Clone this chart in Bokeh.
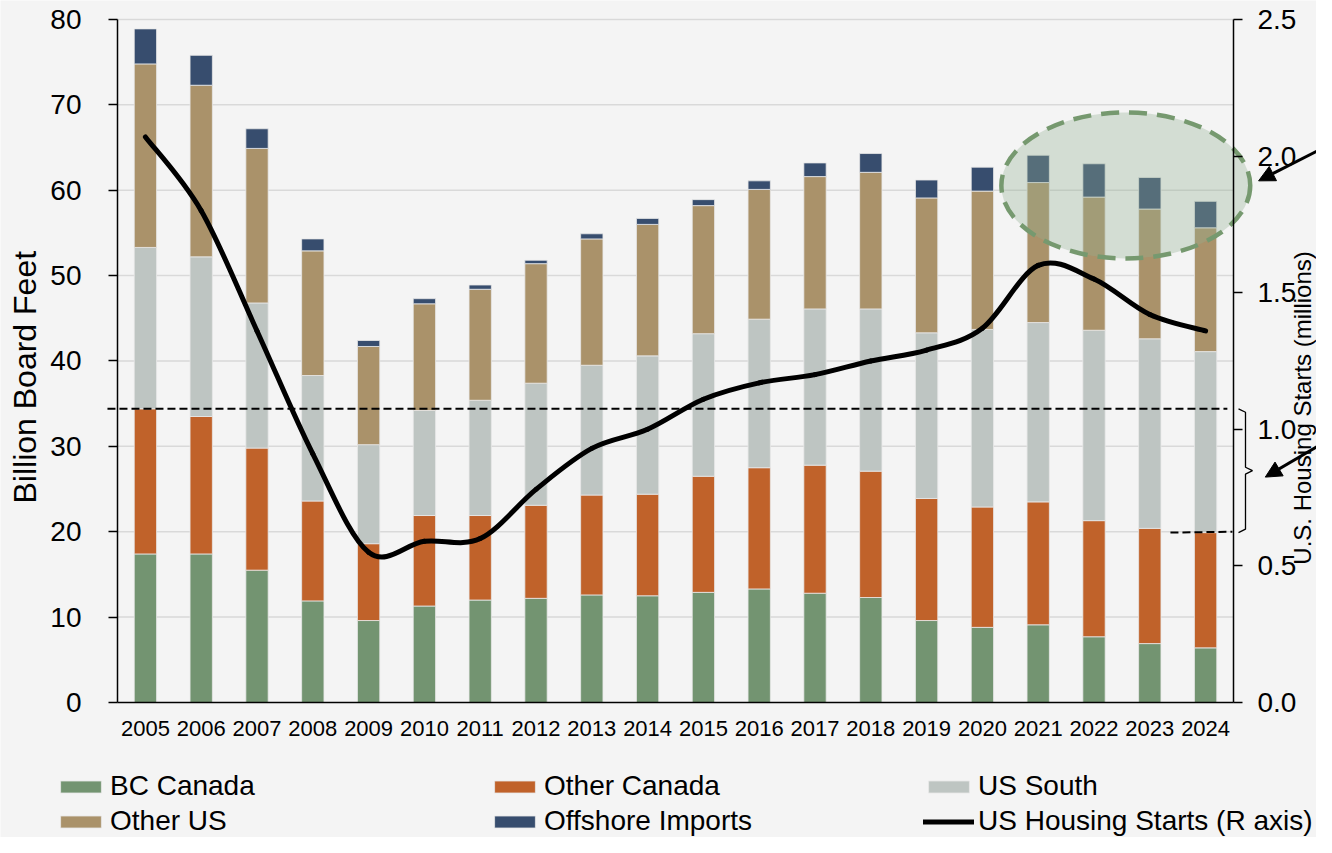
import math
from bokeh.plotting import figure
from bokeh.models import (Range1d, LinearAxis, FixedTicker, NumeralTickFormatter, Legend,
                          LegendItem, Arrow, NormalHead, Label, ColumnDataSource)
from bokeh.embed import file_html
from bokeh.resources import INLINE

# ---------------- data ----------------
years = list(range(2005, 2025))
bc_canada = [17.4, 17.4, 15.5, 11.9, 9.6, 11.3, 12.0, 12.2, 12.6, 12.5,
             12.9, 13.3, 12.8, 12.3, 9.6, 8.8, 9.1, 7.7, 6.9, 6.4]
other_canada = [17.0, 16.1, 14.3, 11.7, 9.0, 10.6, 9.9, 10.9, 11.7, 11.9,
                13.6, 14.2, 15.0, 14.8, 14.3, 14.1, 14.4, 13.6, 13.5, 13.5]
us_south = [18.9, 18.7, 17.0, 14.7, 11.6, 12.3, 13.5, 14.3, 15.2, 16.2,
            16.7, 17.4, 18.3, 19.0, 19.4, 20.8, 21.0, 22.3, 22.2, 21.2]
other_us = [21.5, 20.1, 18.1, 14.6, 11.5, 12.5, 13.0, 14.0, 14.8, 15.4,
            15.0, 15.2, 15.5, 16.0, 15.8, 16.2, 16.4, 15.6, 15.2, 14.5]
offshore = [4.1, 3.5, 2.3, 1.4, 0.7, 0.6, 0.5, 0.4, 0.6, 0.7,
            0.7, 1.0, 1.6, 2.2, 2.1, 2.8, 3.2, 3.9, 3.7, 3.1]
housing_starts = [2.07, 1.80, 1.36, 0.91, 0.55, 0.59, 0.60, 0.78, 0.93, 1.00,
                  1.11, 1.17, 1.20, 1.25, 1.29, 1.37, 1.60, 1.55, 1.42, 1.36]
left_ticks = [0, 10, 20, 30, 40, 50, 60, 70, 80]
right_ticks = [0.0, 0.5, 1.0, 1.5, 2.0, 2.5]
series_keys = ["bc", "oc", "uss", "ous", "off"]
series_names = ["BC Canada", "Other Canada", "US South", "Other US", "Offshore Imports"]
line_name = "US Housing Starts (R axis)"
right_title = "U.S. Housing Starts (millions)"
left_title = "Billion Board Feet"

# ---------------- styles / layout ----------------
colors = ["#739471", "#c0622a", "#bec5c2", "#aa926a", "#374d6e"]
BG = "#f4f4f4"
FONT = "Liberation Sans"
X_LO, X_HI = 2004.5, 2024.5          # category span of the plot area
Y_LO, Y_HI = 0, 80
R_HI = 2.5
R_FACTOR = Y_HI / R_HI

# the frame covers the whole canvas; axes are pinned at the plot-area edges
p = figure(width=1316, height=837, output_backend="svg", toolbar_location=None,
           x_range=Range1d(2002.403, 2025.9875), y_range=Range1d(-15.813, 82.225),
           min_border=0)
p.title.visible = False
p.background_fill_color = BG
p.border_fill_color = BG
p.outline_line_color = None
p.extra_y_ranges = {"right": Range1d(-15.813 / R_FACTOR, 82.225 / R_FACTOR)}
p.xgrid.visible = False
p.ygrid.visible = False

# gridlines inside the plot area
p.segment(x0=X_LO, x1=X_HI, y0=left_ticks[1:], y1=left_ticks[1:],
          line_color="#d9d9d9", line_width=1.5)

source = ColumnDataSource(dict(year=years, bc=bc_canada, oc=other_canada, uss=us_south,
                               ous=other_us, off=offshore))
bars = p.vbar_stack(series_keys, x="year", width=0.4, fill_color=colors,
                    line_color="#e8e8e8", line_width=0.8, source=source)

# smooth line (Catmull-Rom style bezier segments through the data points)
n = len(years)
x0, y0, x1, y1, cx0, cy0, cx1, cy1 = [], [], [], [], [], [], [], []
for i in range(n - 1):
    ip, i2 = max(i - 1, 0), min(i + 2, n - 1)
    x0.append(years[i]); y0.append(housing_starts[i])
    x1.append(years[i + 1]); y1.append(housing_starts[i + 1])
    cx0.append(years[i] + (years[i + 1] - years[ip]) / 6)
    cy0.append(housing_starts[i] + (housing_starts[i + 1] - housing_starts[ip]) / 6)
    cx1.append(years[i + 1] - (years[i2] - years[i]) / 6)
    cy1.append(housing_starts[i + 1] - (housing_starts[i2] - housing_starts[i]) / 6)
line_r = p.bezier(x0=x0, y0=y0, x1=x1, y1=y1, cx0=cx0, cy0=cy0, cx1=cx1, cy1=cy1,
                  line_color="black", line_width=5, line_cap="round", y_range_name="right")

# ---------------- axes ----------------
p.xaxis.fixed_location = 0
p.xaxis.bounds = (X_LO, X_HI)
p.xaxis.ticker = FixedTicker(ticks=years)
p.xaxis.major_label_overrides = {y: str(y) for y in years}
p.xaxis.major_tick_line_color = None
p.xaxis.minor_tick_line_color = None
p.xaxis.major_tick_out = 0
p.xaxis.major_label_standoff = 19
p.xaxis.major_label_text_font_size = "22px"

p.yaxis.fixed_location = X_LO
p.yaxis.bounds = (Y_LO, Y_HI)
p.yaxis.ticker = FixedTicker(ticks=left_ticks)
p.yaxis.major_label_standoff = 27

ra = LinearAxis(y_range_name="right", ticker=FixedTicker(ticks=right_ticks),
                formatter=NumeralTickFormatter(format="0.0"), fixed_location=X_HI,
                bounds=(0, R_HI))
p.add_layout(ra, "right")
ra.major_label_standoff = 15

for ax in [p.xaxis[0], p.yaxis[0], ra]:
    ax.axis_line_color = "black"
    ax.axis_line_width = 1.5
    ax.major_label_text_font = FONT
    ax.major_label_text_color = "black"
for ax in [p.yaxis[0], ra]:
    ax.major_tick_out = 9
    ax.major_tick_in = 0
    ax.major_tick_line_color = "black"
    ax.major_tick_line_width = 1.5
    ax.minor_tick_line_color = None
    ax.major_label_text_font_size = "28px"

# axis titles
p.add_layout(Label(x=2002.851, y=38.1, text=left_title, angle=math.pi / 2,
                   text_align="center", text_baseline="middle", text_font=FONT,
                   text_font_size="32px", text_color="black"))
p.add_layout(Label(x=2025.73, y=34.5, text=right_title, angle=math.pi / 2,
                   text_align="center", text_baseline="middle", text_font=FONT,
                   text_font_size="24px", text_color="black"))

# ---------------- annotations ----------------
# shaded dashed ellipse around the 2021-2024 tops
p.ellipse(x=[2022.57], y=[60.56], width=4.46, height=17.1,
          fill_color=(148, 177, 148), fill_alpha=0.34,
          line_color="#76996f", line_width=4.5, line_dash="18 10")

# dashed reference lines at the 2005 and 2024 Canadian totals
canada_2005 = bc_canada[0] + other_canada[0]
canada_2024 = bc_canada[-1] + other_canada[-1]
p.add_layout(Arrow(end=None, x_start=2004.32, y_start=canada_2005, x_end=2024.39,
                   y_end=canada_2005, line_color="black", line_width=2, line_dash="8 4"))
p.add_layout(Arrow(end=None, x_start=2023.37, y_start=canada_2024, x_end=2024.48,
                   y_end=canada_2024 + 0.1, line_color="black", line_width=2, line_dash="8 4"))

# curly bracket spanning the two totals
mid = (canada_2005 + canada_2024) / 2
bx = [2024.59, 2024.715, 2024.715, 2024.84, 2024.715, 2024.715, 2024.59]
by = [canada_2005, canada_2005 - 0.4, mid + 0.4, mid, mid - 0.4, canada_2024 + 0.4, canada_2024]
p.line(x=bx, y=by, line_color="black", line_width=1.3)

# pointer arrows coming from the right
p.add_layout(Arrow(end=NormalHead(size=16, fill_color="black", line_color="black"),
                   x_start=2026.42, y_start=66.0, x_end=2024.95, y_end=61.1,
                   line_color="black", line_width=3))
p.add_layout(Arrow(end=NormalHead(size=16, fill_color="black", line_color="black"),
                   x_start=2026.42, y_start=31.6, x_end=2025.07, y_end=26.4,
                   line_color="black", line_width=3))

# ---------------- legend (two rows, three columns) ----------------
def make_row(items, loc):
    lg = Legend(items=items, location=loc, orientation="horizontal",
                background_fill_alpha=0, border_line_color=None, padding=0, margin=0,
                spacing=0, glyph_width=51, glyph_height=15, label_standoff=4,
                label_width=379, label_text_font=FONT, label_text_font_size="28px",
                label_text_color="black")
    p.add_layout(lg)

make_row([LegendItem(label=series_names[0], renderers=[bars[0]]),
          LegendItem(label=series_names[1], renderers=[bars[1]]),
          LegendItem(label=series_names[2], renderers=[bars[2]])], (55, 35))
make_row([LegendItem(label=series_names[3], renderers=[bars[3]]),
          LegendItem(label=series_names[4], renderers=[bars[4]]),
          LegendItem(label=line_name, renderers=[line_r])], (55, 0))

open("out.html", "w").write(file_html(p, INLINE))
